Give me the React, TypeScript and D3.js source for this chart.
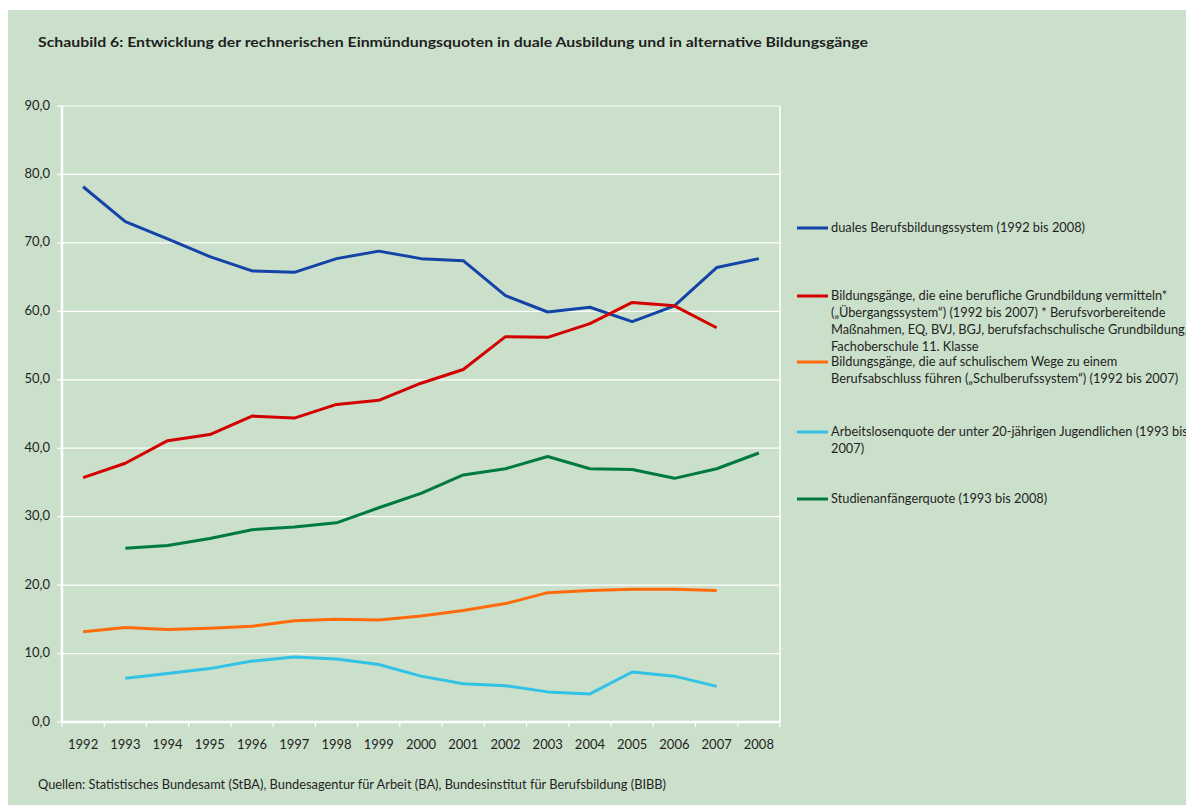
import React from "react";
import * as d3 from "d3";

const years = [1992, 1993, 1994, 1995, 1996, 1997, 1998, 1999, 2000, 2001, 2002, 2003, 2004, 2005, 2006, 2007, 2008];
const duales = [78.2, 73.1, 70.6, 68.0, 65.9, 65.7, 67.7, 68.8, 67.7, 67.4, 62.3, 59.9, 60.6, 58.5, 60.8, 66.4, 67.7];
const uebergang = [35.7, 37.8, 41.1, 42.0, 44.7, 44.4, 46.4, 47.0, 49.5, 51.5, 56.3, 56.2, 58.2, 61.3, 60.8, 57.6, null];
const schulberuf = [13.2, 13.8, 13.5, 13.7, 14.0, 14.8, 15.0, 14.9, 15.5, 16.3, 17.3, 18.9, 19.2, 19.4, 19.4, 19.2, null];
const arbeitslos = [null, 6.4, 7.1, 7.8, 8.9, 9.5, 9.2, 8.4, 6.7, 5.6, 5.3, 4.4, 4.1, 7.3, 6.7, 5.2, null];
const studien = [null, 25.4, 25.8, 26.8, 28.1, 28.5, 29.1, 31.3, 33.4, 36.1, 37.0, 38.8, 37.0, 36.9, 35.6, 37.0, 39.3];
const yTicks = [0, 10, 20, 30, 40, 50, 60, 70, 80, 90];

const legendLabels = [
  ["duales Berufsbildungssystem (1992 bis 2008)"],
  [
    "Bildungsgänge, die eine berufliche Grundbildung vermitteln*",
    "(„Übergangssystem“) (1992 bis 2007) * Berufsvorbereitende",
    "Maßnahmen, EQ, BVJ, BGJ, berufsfachschulische Grundbildung,",
    "Fachoberschule 11. Klasse",
  ],
  [
    "Bildungsgänge, die auf schulischem Wege zu einem",
    "Berufsabschluss führen („Schulberufssystem“) (1992 bis 2007)",
  ],
  ["Arbeitslosenquote der unter 20-jährigen Jugendlichen (1993 bis", "2007)"],
  ["Studienanfängerquote (1993 bis 2008)"],
];

const title = "Schaubild 6: Entwicklung der rechnerischen Einmündungsquoten in duale Ausbildung und in alternative Bildungsgänge";
const source = "Quellen: Statistisches Bundesamt (StBA), Bundesagentur für Arbeit (BA), Bundesinstitut für Berufsbildung (BIBB)";

const seriesList = [
  { values: duales, color: "#1343a6" },
  { values: uebergang, color: "#d30000" },
  { values: schulberuf, color: "#ff6a0a" },
  { values: arbeitslos, color: "#32c2e6" },
  { values: studien, color: "#007a3e" },
];
const legendY = [228, 296, 362, 432, 499];

export default function App() {
  const left = 62, right = 780, top = 106, bottom = 722;
  const x = d3.scaleBand<number>().domain(years).range([left, right]);
  const y = d3.scaleLinear().domain([0, 90]).range([bottom, top]);
  const line = d3
    .line<number | null>()
    .defined((d) => d !== null)
    .x((_, i) => (x(years[i]) as number) + x.bandwidth() / 2)
    .y((d) => y(d as number));
  const font = "Lato, 'Open Sans', sans-serif";
  const txt = "#1f1f1f";
  return (
    <svg width={1186} height={797} style={{ display: "block" }} fontFamily={font}>
      <g transform="translate(-8,-8)">
        <rect x={8} y={10} width={1186} height={795} fill="#cbe0cb" />
        <text x={38} y={47} fontSize={14} fontWeight="bold" fill={txt} textLength={830} lengthAdjust="spacingAndGlyphs">
          {title}
        </text>
        {yTicks.map((t) => (
          <g key={t}>
            <line x1={left} x2={right} y1={y(t)} y2={y(t)} stroke="#ffffff" strokeWidth={t === 0 ? 2.5 : 1.2} />
            <line x1={57} x2={left} y1={y(t)} y2={y(t)} stroke="#ffffff" strokeWidth={1.2} />
            <text x={50} y={y(t) - 1} dy="0.35em" textAnchor="end" fontSize={13} fill={txt}>
              {t.toFixed(1).replace(".", ",")}
            </text>
          </g>
        ))}
        <line x1={left} x2={left} y1={top} y2={bottom} stroke="#ffffff" strokeWidth={2.5} />
        <line x1={right} x2={right} y1={top} y2={bottom} stroke="#ffffff" strokeWidth={1.5} />
        {years.map((yr, i) => (
          <line
            key={"t" + yr}
            x1={left + i * x.step()}
            x2={left + i * x.step()}
            y1={bottom}
            y2={bottom + 5}
            stroke="#ffffff"
            strokeWidth={1.2}
          />
        ))}
        <line x1={right} x2={right} y1={bottom} y2={bottom + 5} stroke="#ffffff" strokeWidth={1.2} />
        {years.map((yr) => (
          <text
            key={"l" + yr}
            x={(x(yr) as number) + x.bandwidth() / 2}
            y={749}
            textAnchor="middle"
            fontSize={13}
            fill={txt}
          >
            {yr}
          </text>
        ))}
        {seriesList.map((s, i) => (
          <path key={i} d={line(s.values) || ""} fill="none" stroke={s.color} strokeWidth={3} strokeLinejoin="round" />
        ))}
        {seriesList.map((s, i) => (
          <g key={"lg" + i}>
            <line x1={797} x2={828} y1={legendY[i]} y2={legendY[i]} stroke={s.color} strokeWidth={3} />
            {legendLabels[i].map((ln, j) => (
              <text key={j} x={831} y={legendY[i] + j * 17} dy="0.35em" fontSize={12.8} fill={txt}>
                {ln}
              </text>
            ))}
          </g>
        ))}
        <text x={38} y={789} fontSize={12.5} fill={txt} textLength={628} lengthAdjust="spacingAndGlyphs">
          {source}
        </text>
      </g>
    </svg>
  );
}
